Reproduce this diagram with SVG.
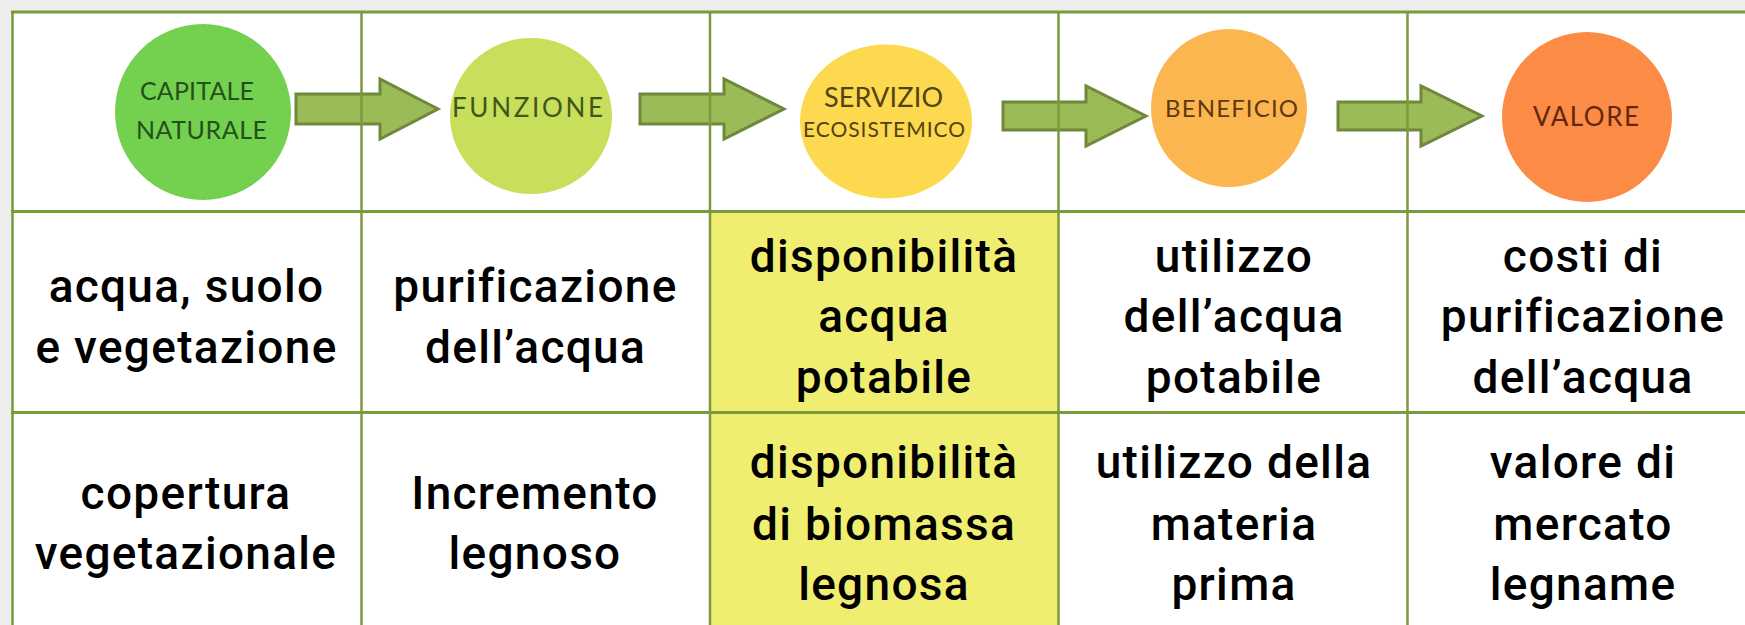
<svg xmlns="http://www.w3.org/2000/svg" width="1745" height="625" viewBox="0 0 1745 625">
<style>
.grid{stroke:#7a9a3c;fill:none}
.h{stroke-width:3}
.v{stroke-width:2.5}
.arrow{fill:#9bbb59;stroke:#6f883c;stroke-width:3;stroke-linejoin:miter}
.ct{font-family:Lato,"Open Sans","Liberation Sans",sans-serif;font-weight:400;text-anchor:middle}
.bt{font-family:Roboto,"Liberation Sans",sans-serif;font-weight:500;font-size:46px;letter-spacing:1.3px;text-anchor:middle;fill:#000}
</style>
<rect x="0" y="0" width="1745" height="625" fill="#eeeeee"/>
<rect x="12" y="12" width="1760" height="640" fill="#ffffff"/>
<rect x="710" y="212" width="348.5" height="440" fill="#efee70"/>

<g id="connectors">
<polygon class="arrow" points="296,94 380,94 380,79 438,109 380,139 380,124 296,124"/>
<polygon class="arrow" points="640,94 724,94 724,79 784,109 724,139 724,124 640,124"/>
<polygon class="arrow" points="1003,102 1086,102 1086,86 1146,116 1086,146 1086,130 1003,130"/>
<polygon class="arrow" points="1338,102 1421,102 1421,86 1482,116 1421,146 1421,130 1338,130"/>
</g>

<g id="grid">
<line class="grid h" x1="11" y1="12" x2="1745" y2="12"/>
<line class="grid h" x1="11" y1="211.5" x2="1745" y2="211.5"/>
<line class="grid h" x1="11" y1="412.5" x2="1745" y2="412.5"/>
<line class="grid v" x1="12.5" y1="11" x2="12.5" y2="625"/>
<line class="grid v" x1="361.5" y1="12" x2="361.5" y2="625"/>
<line class="grid v" x1="710" y1="12" x2="710" y2="625"/>
<line class="grid v" x1="1058.5" y1="12" x2="1058.5" y2="625"/>
<line class="grid v" x1="1407.5" y1="12" x2="1407.5" y2="625"/>
</g>

<g id="capitale-naturale">
<ellipse cx="203" cy="112" rx="88" ry="88" fill="#74d04f"/>
<text class="ct" x="197" y="100" font-size="25" fill="#24501a" textLength="114" lengthAdjust="spacing">CAPITALE</text>
<text class="ct" x="201.5" y="139" font-size="25" fill="#24501a" textLength="131" lengthAdjust="spacing">NATURALE</text>
</g>
<g id="funzione">
<ellipse cx="531" cy="116" rx="81" ry="78" fill="#c8df5c"/>
<text class="ct" x="527.5" y="117" font-size="26" fill="#435619" textLength="151" lengthAdjust="spacing">FUNZIONE</text>
</g>
<g id="servizio-ecosistemico">
<ellipse cx="886" cy="121.5" rx="86" ry="77" fill="#fcd94e"/>
<text class="ct" x="883.5" y="107" font-size="27" fill="#544212" textLength="119" lengthAdjust="spacing">SERVIZIO</text>
<text class="ct" x="884" y="137" font-size="21" fill="#544212" textLength="162" lengthAdjust="spacing">ECOSISTEMICO</text>
</g>
<g id="beneficio">
<ellipse cx="1229" cy="108" rx="78" ry="79" fill="#fbb650"/>
<text class="ct" x="1231.5" y="117" font-size="24" fill="#623810" textLength="133" lengthAdjust="spacing">BENEFICIO</text>
</g>
<g id="valore">
<ellipse cx="1587" cy="117" rx="85" ry="85" fill="#fc8b45"/>
<text class="ct" x="1586" y="126" font-size="26" fill="#62270e" textLength="106" lengthAdjust="spacing">VALORE</text>
</g>

<g id="row-acqua">
<g id="cell-r2c1"><text class="bt" x="186.5" y="301.7">acqua, suolo</text><text class="bt" x="186.5" y="363.3">e vegetazione</text></g>
<g id="cell-r2c2"><text class="bt" x="535.5" y="301.7">purificazione</text><text class="bt" x="535.5" y="363.3">dell’acqua</text></g>
<g id="cell-r2c3"><text class="bt" x="884" y="271.7">disponibilità</text><text class="bt" x="884" y="331.7">acqua</text><text class="bt" x="884" y="392.7">potabile</text></g>
<g id="cell-r2c4"><text class="bt" x="1234" y="271.7">utilizzo</text><text class="bt" x="1234" y="331.7">dell’acqua</text><text class="bt" x="1234" y="392.7">potabile</text></g>
<g id="cell-r2c5"><text class="bt" x="1583" y="271.7">costi di</text><text class="bt" x="1583" y="331.7">purificazione</text><text class="bt" x="1583" y="392.7">dell’acqua</text></g>
</g>
<g id="row-legno">
<g id="cell-r3c1"><text class="bt" x="186" y="509">copertura</text><text class="bt" x="186" y="569">vegetazionale</text></g>
<g id="cell-r3c2"><text class="bt" x="535" y="509">Incremento</text><text class="bt" x="535" y="569">legnoso</text></g>
<g id="cell-r3c3"><text class="bt" x="884" y="478">disponibilità</text><text class="bt" x="884" y="540">di biomassa</text><text class="bt" x="884" y="600">legnosa</text></g>
<g id="cell-r3c4"><text class="bt" x="1234" y="478">utilizzo della</text><text class="bt" x="1234" y="540">materia</text><text class="bt" x="1234" y="600">prima</text></g>
<g id="cell-r3c5"><text class="bt" x="1583" y="478">valore di</text><text class="bt" x="1583" y="540">mercato</text><text class="bt" x="1583" y="600">legname</text></g>
</g>
</svg>
